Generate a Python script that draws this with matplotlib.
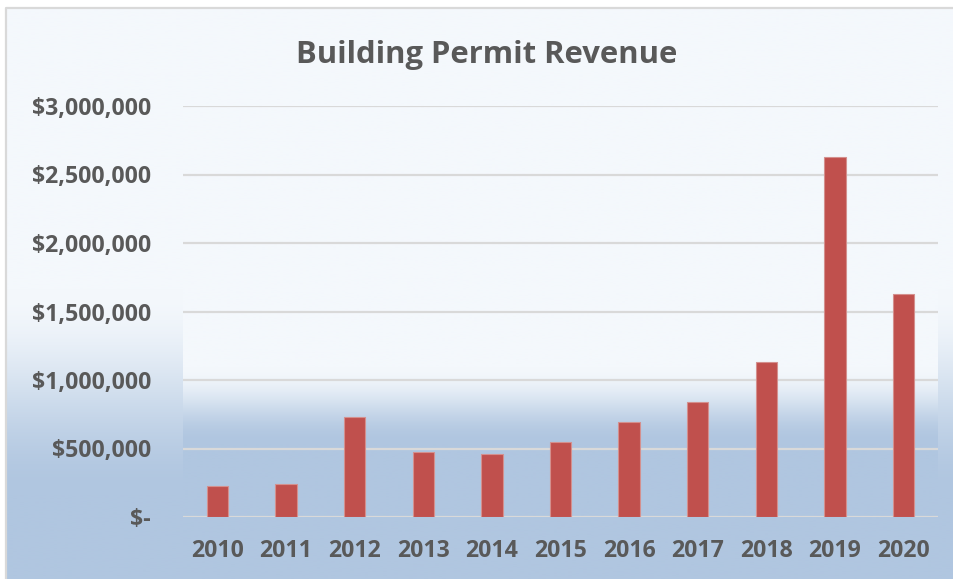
import numpy as np
import matplotlib
matplotlib.use("Agg")
import matplotlib.pyplot as plt
from matplotlib.ticker import FuncFormatter

# ---- data ----
years = ["2010", "2011", "2012", "2013", "2014", "2015", "2016", "2017", "2018", "2019", "2020"]
revenue = [226000, 241000, 732000, 472000, 458000, 550000, 696000, 839000, 1129000, 2628000, 1630000]
y_ticks = [0, 500000, 1000000, 1500000, 2000000, 2500000, 3000000]
title = "Building Permit Revenue"

W, H = 954, 579
fig = plt.figure(figsize=(W / 100, H / 100), dpi=100)
fig.patch.set_facecolor("white")

light = np.array([244, 248, 252]) / 255.0
blue = np.array([176, 198, 224]) / 255.0
FONT = "Open Sans"


def grad_img(y0, y1, t0, t1, n=400):
    ys = np.linspace(y0, y1, n)
    t = np.clip((ys - t0) / (t1 - t0), 0, 1)
    t = t * t * (3 - 2 * t)
    cols = light[None, :] * (1 - t[:, None]) + blue[None, :] * t[:, None]
    return cols[:, None, :]

# background axes in pixel coordinates
bg = fig.add_axes([0, 0, 1, 1])
bg.axis("off")
# chart area
bg.imshow(grad_img(7, H, 290, 495), extent=[6, W, H, 7], aspect="auto",
          interpolation="bilinear", zorder=0)
bg.plot([6.5, 6.5, W], [H, 7.5, 7.5], color="#d9d9d9", lw=1.6, zorder=1,
        solid_capstyle="butt")
# plot area
px0, px1, py0, py1 = 183, 938, 95, 517
bg.imshow(grad_img(py0, py1, 367, 443), extent=[px0, px1, py1, py0], aspect="auto",
          interpolation="bilinear", zorder=0.5)
bg.set_xlim(0, W)
bg.set_ylim(H, 0)

# main axes
top_px = 106
ax = fig.add_axes([px0 / W, (H - py1) / H, (px1 - px0) / W, (py1 - top_px) / H])
ax.set_facecolor("none")
x = np.arange(len(years))
ax.bar(x, revenue, width=0.31, color="#C0504D", edgecolor="#d4908e", linewidth=0.8, zorder=3)
ax.set_xlim(-0.5, len(years) - 0.5)
ax.set_ylim(0, 3000000)
ax.set_yticks(y_ticks)
ax.yaxis.set_major_formatter(FuncFormatter(lambda v, p: "$-" if v == 0 else "${:,.0f}".format(v)))
ax.set_xticks(x)
ax.set_xticklabels(years)
ax.grid(axis="y", color="#d9d9d9", lw=1.6, zorder=1)
ax.set_axisbelow(True)
for s in ax.spines.values():
    s.set_visible(False)
ax.tick_params(axis="both", length=0, labelcolor="#595959")
ax.tick_params(axis="y", pad=23)
ax.tick_params(axis="x", pad=16)
for lab in ax.get_yticklabels() + ax.get_xticklabels():
    lab.set_fontfamily(FONT)
    lab.set_fontweight("bold")
    lab.set_fontsize(16.7)

fig.text(487 / W, (H - 63.5) / H, title, ha="center", va="baseline",
         fontfamily=FONT, fontweight="bold", fontsize=22.3, color="#595959")

fig.savefig("out.png", dpi=100)
